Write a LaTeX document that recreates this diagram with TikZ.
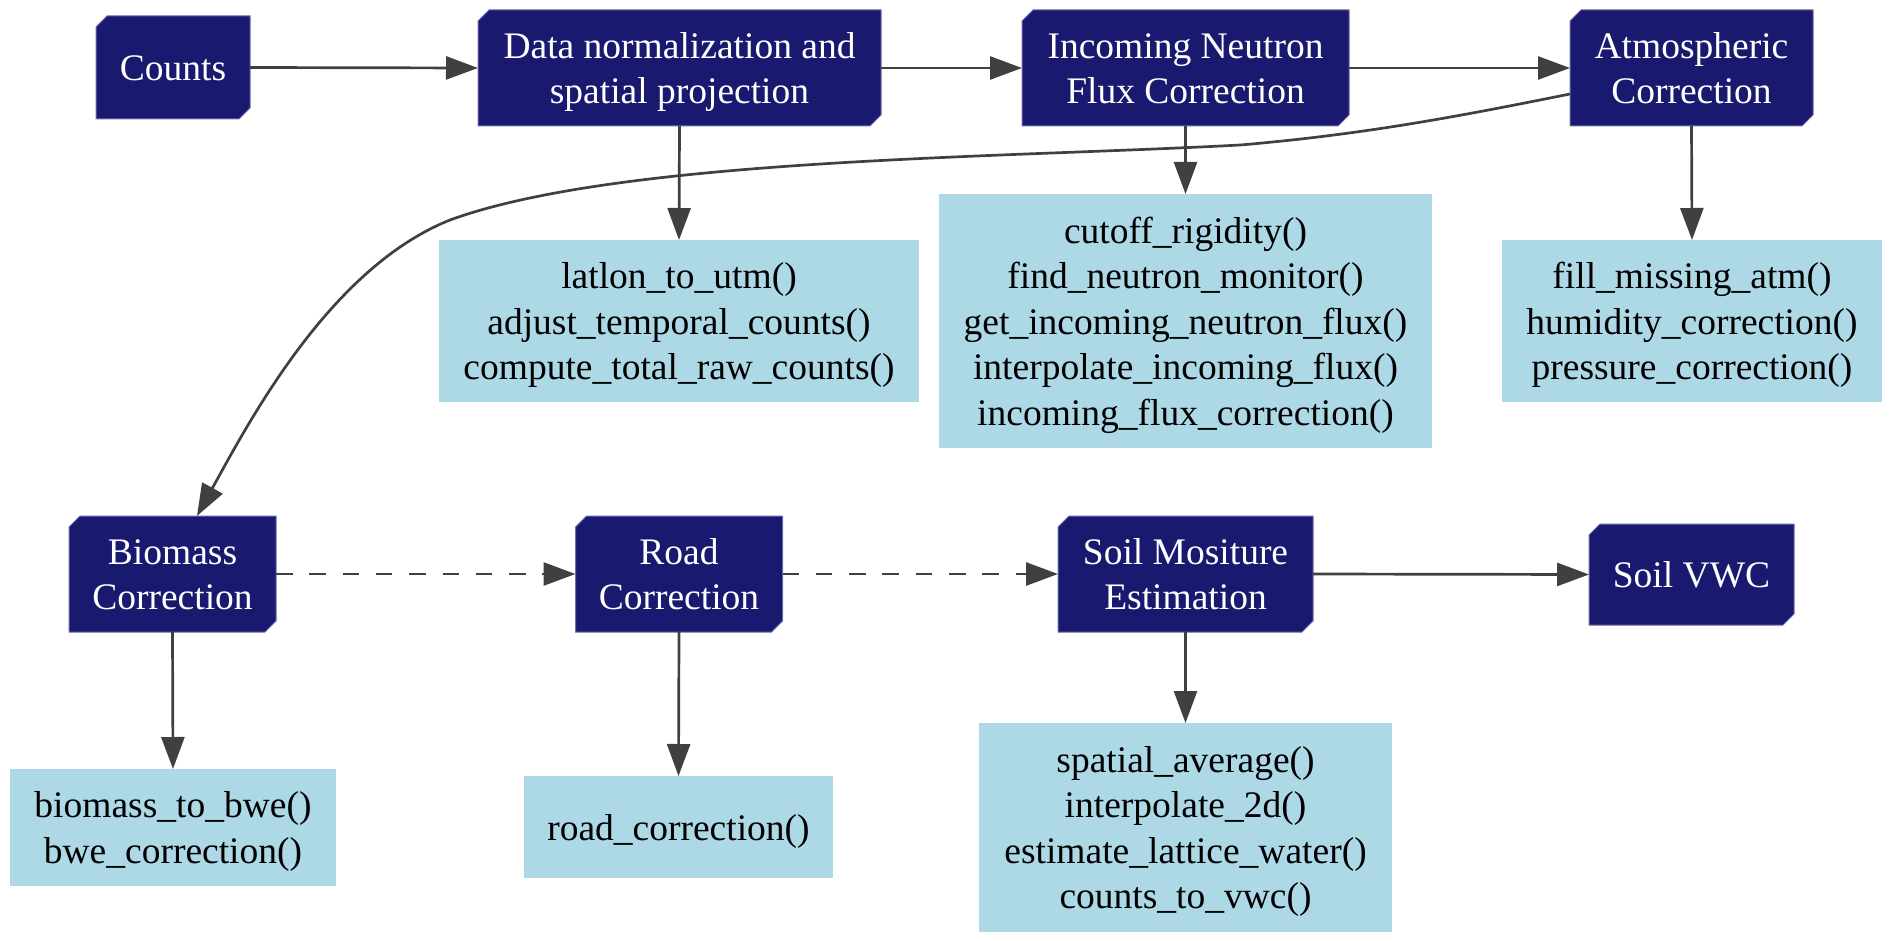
\documentclass[tikz,border=0pt]{standalone}
\usepackage{fontspec}
\setmainfont{LiberationSerif-Regular.ttf}
\usetikzlibrary{arrows.meta,calc,backgrounds}
\definecolor{navyn}{HTML}{191970}
\definecolor{navyb}{HTML}{6C6CA8}
\definecolor{lblue}{HTML}{ADD8E6}
\definecolor{edgec}{HTML}{404040}
\newcommand\sx{\rule[-9.7pt]{0pt}{45.5pt}}
\begin{document}
\begin{tikzpicture}[x=1pt,y=-1pt,
  txt/.style={font=\fontsize{37.5}{45.5}\selectfont, align=center, inner sep=0pt, outer sep=0pt},
  proc/.style={txt, text=white, rectangle},
  func/.style={txt, text=black, rectangle, fill=lblue},
  conn/.style={draw=edgec, line width=2.7pt, -{Triangle[length=32pt,width=23pt]}},
  dconn/.style={conn, dash pattern=on 16.5pt off 16.8pt}
]
\useasboundingbox (0,0) rectangle (1892,941);

% process nodes (dark)
\node[proc, minimum width=154pt, minimum height=103pt] (counts) at (173,67.5) {\sx Counts};
\node[proc, minimum width=403pt, minimum height=116pt] (datanorm) at (679.5,68) {\sx Data normalization and\\\sx spatial projection};
\node[proc, minimum width=327pt, minimum height=116pt] (neutron) at (1185.5,68) {\sx Incoming Neutron\\\sx Flux Correction};
\node[proc, minimum width=243pt, minimum height=116pt] (atm) at (1691.5,68) {\sx Atmospheric\\\sx Correction};
\node[proc, minimum width=207pt, minimum height=116pt] (bio) at (172.5,574) {\sx Biomass\\\sx Correction};
\node[proc, minimum width=207pt, minimum height=116pt] (road) at (679,574) {\sx Road\\\sx Correction};
\node[proc, minimum width=255pt, minimum height=116pt] (soilm) at (1185.5,574) {\sx Soil Mositure\\\sx Estimation};
\node[proc, minimum width=205pt, minimum height=101pt] (vwc) at (1691.5,574.5) {\sx Soil VWC};

% function nodes (light blue)
\node[func, minimum width=480pt, minimum height=162pt] (f1) at (679,321) {\sx latlon\_to\_utm()\\\sx adjust\_temporal\_counts()\\\sx compute\_total\_raw\_counts()};
\node[func, minimum width=493pt, minimum height=254pt] (f2) at (1185.5,321) {\sx cutoff\_rigidity()\\\sx find\_neutron\_monitor()\\\sx get\_incoming\_neutron\_flux()\\\sx interpolate\_incoming\_flux()\\\sx incoming\_flux\_correction()};
\node[func, minimum width=380pt, minimum height=162pt] (f3) at (1692,321) {\sx fill\_missing\_atm()\\\sx humidity\_correction()\\\sx pressure\_correction()};
\node[func, minimum width=326pt, minimum height=117pt] (bf) at (173,827.5) {\sx biomass\_to\_bwe()\\\sx bwe\_correction()};
\node[func, minimum width=309pt, minimum height=102pt] (rf) at (678.5,827) {\sx road\_correction()};
\node[func, minimum width=413pt, minimum height=209pt] (sf) at (1185.5,827.5) {\sx spatial\_average()\\\sx interpolate\_2d()\\\sx estimate\_lattice\_water()\\\sx counts\_to\_vwc()};

% chamfered dark shapes behind the process nodes
\begin{scope}[on background layer]
\foreach \n in {counts,datanorm,neutron,atm,bio,road,soilm,vwc}{
  \filldraw[fill=navyn, draw=navyb, line width=1pt]
    ($(\n.north west)+(11,0)$) -- (\n.north east) -- ($(\n.south east)+(0,-11)$)
    -- ($(\n.south east)+(-11,0)$) -- (\n.south west) -- ($(\n.north west)+(0,11)$) -- cycle;
}
\end{scope}

% connectors
\draw[conn] (counts.east) -- (datanorm.west);
\draw[conn] (datanorm.east) -- (neutron.west);
\draw[conn] (neutron.east) -- (atm.west);
\draw[conn] (datanorm.south) -- (f1.north);
\draw[conn] (neutron.south) -- (f2.north);
\draw[conn] (atm.south) -- (f3.north);
\draw[conn] ($(atm.west)+(0,26)$) .. controls (1470,114) and (1370,134) .. (1240,145)
  .. controls (1000,158) and (620,158) .. (450,220)
  .. controls (330,268) and (250,420) .. ($(bio.north)+(24.5,0)$);
\draw[dconn] (bio.east) -- (road.west);
\draw[dconn] (road.east) -- (soilm.west);
\draw[conn] (soilm.east) -- (vwc.west);
\draw[conn] (bio.south) -- (bf.north);
\draw[conn] (road.south) -- (rf.north);
\draw[conn] (soilm.south) -- (sf.north);
\end{tikzpicture}
\end{document}
